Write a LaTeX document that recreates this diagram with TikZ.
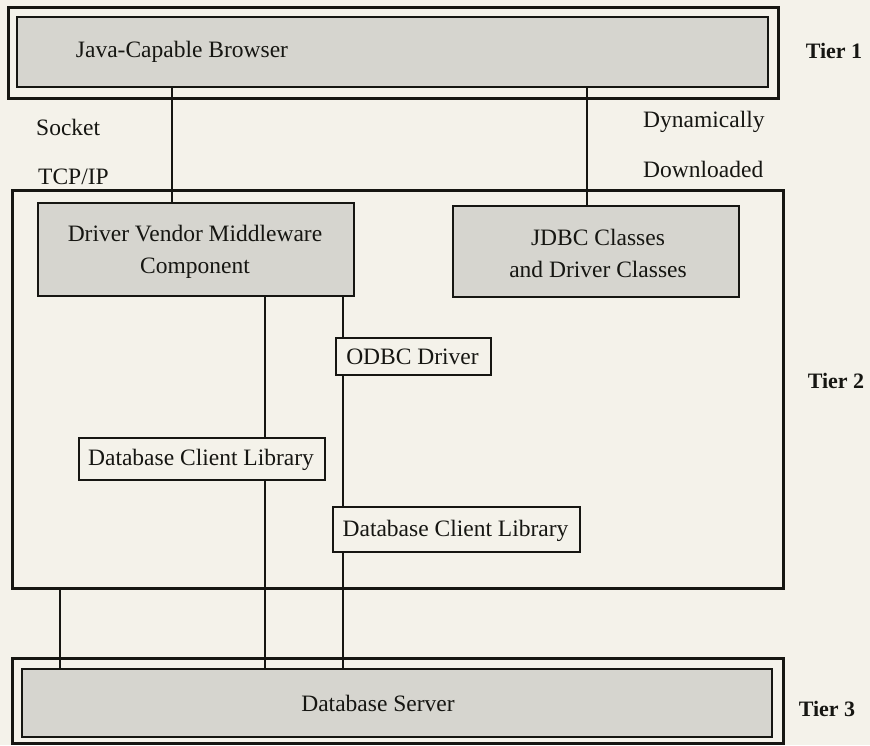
\documentclass[tikz,border=0pt]{standalone}
\usepackage{fontspec}
\setmainfont{Liberation Serif}
\definecolor{paper}{RGB}{244,242,234}
\definecolor{shade}{RGB}{214,213,207}
\definecolor{ink}{RGB}{22,22,18}
\begin{document}
\begin{tikzpicture}[x=1pt,y=-1pt,
  box/.style={draw=ink,line width=2pt,inner sep=0pt,anchor=north west},
  shadebox/.style={box,fill=shade},
  plainbox/.style={box,fill=paper},
  frame/.style={draw=ink,line width=2.6pt,anchor=north west,inner sep=0pt},
  txt/.style={font=\fontsize{23.5}{32}\selectfont,text=ink,inner sep=0pt,align=center},
  tier/.style={font=\fontsize{22}{26}\selectfont\bfseries,text=ink,inner sep=0pt},
  conn/.style={draw=ink,line width=1.5pt}]
\fill[paper] (0,0) rectangle (870,745);
\useasboundingbox (0,0) rectangle (870,745);
% Tier 1
\node[frame,minimum width=770pt,minimum height=91pt] (t1out) at (7,6) {};
\node[shadebox,minimum width=751pt,minimum height=70pt] (t1in) at (16,16) {};
\node[txt] (browser) at (182,52) {Java-Capable Browser};
% Tier 2
\node[frame,minimum width=771pt,minimum height=398pt] (t2) at (11,189) {};
\node[shadebox,minimum width=316pt,minimum height=93pt] (dvm) at (37,202) {};
\node[txt] (dvmtext) at (195,252) {Driver Vendor Middleware\\Component};
\node[shadebox,minimum width=286pt,minimum height=91pt] (jdbc) at (452,205) {};
\node[txt] (jdbctext) at (598,253) {JDBC Classes\\and Driver Classes};
\node[plainbox,minimum width=155pt,minimum height=37pt] (odbc) at (335,337) {};
\node[txt] (odbctext) at (412.5,357) {ODBC Driver};
\node[plainbox,minimum width=246pt,minimum height=42pt] (dcla) at (78,437) {};
\node[txt] (dclatext) at (201,460) {Database Client Library};
\node[plainbox,minimum width=247pt,minimum height=45pt] (dclb) at (332,506) {};
\node[txt] (dclbtext) at (455.5,531) {Database Client Library};
% Tier 3
\node[frame,minimum width=771pt,minimum height=85pt] (t3out) at (11,657) {};
\node[shadebox,minimum width=750pt,minimum height=68pt] (t3in) at (21,668) {};
\node[txt] (server) at (378,703) {Database Server};
% side labels
\node[txt,anchor=west] (socket) at (36,127) {Socket};
\node[txt,anchor=west] (tcpip) at (38,177) {TCP/IP};
\node[txt,anchor=west] (dyn) at (643,122) {Dynamically};
\node[txt,anchor=west] (down) at (643,169) {Downloaded};
\node[tier] (tierone) at (834,51) {Tier 1};
\node[tier] (tiertwo) at (836,381) {Tier 2};
\node[tier] (tierthree) at (827,709) {Tier 3};
% connectors
\path[conn] (t1in.south -| 172,0) -- (dvm.north -| 172,0);
\path[conn] (t1in.south -| 587,0) -- (jdbc.north -| 587,0);
\path[conn] (dvm.south -| 265,0) -- (dcla.north -| 265,0);
\path[conn] (dvm.south -| 343,0) -- (odbc.north -| 343,0);
\path[conn] (odbc.south -| 343,0) -- (dclb.north -| 343,0);
\path[conn] (dcla.south -| 265,0) -- (t3in.north -| 265,0);
\path[conn] (dclb.south -| 343,0) -- (t3in.north -| 343,0);
\path[conn] (t2.south -| 60,0) -- (t3in.north -| 60,0);
\end{tikzpicture}
\end{document}
